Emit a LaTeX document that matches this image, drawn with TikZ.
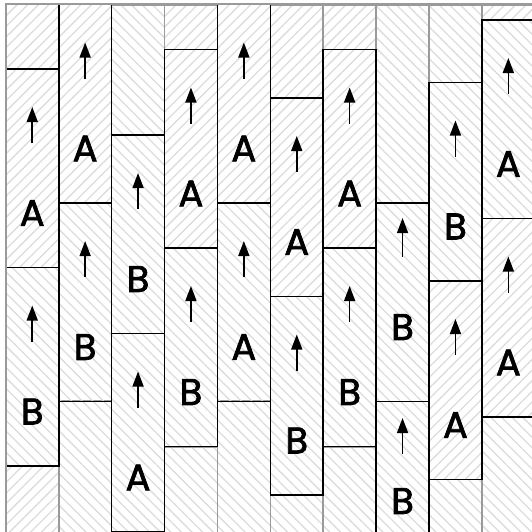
\documentclass[tikz,border=0pt]{standalone}
\usepackage{fontspec}
\newfontfamily\tagfont{Poppins}[FakeBold=2]
\usetikzlibrary{arrows.meta,patterns.meta}
\definecolor{hatch}{HTML}{DCDCDC}
\definecolor{edge}{HTML}{9A9A9A}

\begin{document}
\begin{tikzpicture}[
    x=1pt, y=-1pt,
    fwd/.style={pattern={Lines[angle=45,distance=7.5pt,line width=1.3pt]}, pattern color=hatch},
    bwd/.style={pattern={Lines[angle=-45,distance=7.5pt,line width=1.3pt]}, pattern color=hatch},
    gap/.style={
      draw=edge,
      line width=1.6pt,
      minimum width=52.9pt,
      inner sep=0pt,
      anchor=north
    },
    plank/.style={
      draw,
      line width=1.6pt,
      minimum width=52.9pt,
      minimum height=198.5pt,
      inner sep=0pt,
      anchor=north
    },
    tag/.style={font=\tagfont\fontsize{37}{37}\selectfont},
    up/.style={-{Triangle[width=11pt,length=15pt]}, line width=1.6pt}
  ]
    \useasboundingbox (0,0) rectangle (532,531);
    \clip (0,0) rectangle (532,531);

    \node[gap, fwd, minimum height=64pt] (g1a) at (32.25,4) {};
    \node[gap, fwd, minimum height=80pt] (g1b) at (32.25,465) {};
    \node[gap, bwd, minimum height=140pt] (g2b) at (85.15,400) {};
    \node[gap, bwd, minimum height=130pt] (g3a) at (138.05,4) {};
    \node[gap, fwd, minimum height=44.5pt] (g4a) at (190.95,4) {};
    \node[gap, bwd, minimum height=100pt] (g4b) at (190.95,446) {};
    \node[gap, bwd, minimum height=140pt] (g5b) at (243.85,400) {};
    \node[gap, fwd, minimum height=93pt] (g6a) at (296.75,4) {};
    \node[gap, bwd, minimum height=50pt] (g6b) at (296.75,494) {};
    \node[gap, fwd, minimum height=44.5pt] (g7a) at (349.65,4) {};
    \node[gap, bwd, minimum height=100pt] (g7b) at (349.65,446) {};
    \node[gap, bwd, minimum height=198pt] (g8a) at (402.55,4) {};
    \node[gap, bwd, minimum height=77.5pt] (g9a) at (455.45,4) {};
    \node[gap, bwd, minimum height=60pt] (g9b) at (455.45,478.5) {};
    \node[gap, fwd, minimum height=15pt] (g10a) at (508.35,4) {};
    \node[gap, bwd, minimum height=130pt] (g10b) at (508.35,415.5) {};

    \node[plank, fwd] (p1a) at (32.25,68) {};
    \node[plank, bwd] (p1b) at (32.25,266.5) {};
    \node[plank, fwd] (p2a) at (85.15,3.5) {};
    \node[plank, bwd] (p2b) at (85.15,202) {};
    \node[plank, bwd] (p3a) at (138.05,134) {};
    \node[plank, bwd] (p3b) at (138.05,332.5) {};
    \node[plank, fwd] (p4a) at (190.95,48.5) {};
    \node[plank, bwd] (p4b) at (190.95,247) {};
    \node[plank, fwd] (p5a) at (243.85,3.5) {};
    \node[plank, bwd] (p5b) at (243.85,202) {};
    \node[plank, fwd] (p6a) at (296.75,97) {};
    \node[plank, bwd] (p6b) at (296.75,295.5) {};
    \node[plank, fwd] (p7a) at (349.65,48.5) {};
    \node[plank, bwd] (p7b) at (349.65,247) {};
    \node[plank, bwd] (p8a) at (402.55,202) {};
    \node[plank, bwd] (p8b) at (402.55,400.5) {};
    \node[plank, bwd] (p9a) at (455.45,81.5) {};
    \node[plank, fwd] (p9b) at (455.45,280) {};
    \node[plank, bwd] (p10a) at (508.35,19) {};
    \node[plank, fwd] (p10b) at (508.35,217.5) {};

    \node[tag] (t1a) at (32.25,213) {A};
    \node[tag] (t1b) at (32.25,411.5) {B};
    \node[tag] (t2a) at (85.15,148.5) {A};
    \node[tag] (t2b) at (85.15,347) {B};
    \node[tag] (t3a) at (138.05,279) {B};
    \node[tag] (t3b) at (138.05,477.5) {A};
    \node[tag] (t4a) at (190.95,193.5) {A};
    \node[tag] (t4b) at (190.95,392) {B};
    \node[tag] (t5a) at (243.85,148.5) {A};
    \node[tag] (t5b) at (243.85,347) {A};
    \node[tag] (t6a) at (296.75,242) {A};
    \node[tag] (t6b) at (296.75,440.5) {B};
    \node[tag] (t7a) at (349.65,193.5) {A};
    \node[tag] (t7b) at (349.65,392) {B};
    \node[tag] (t8a) at (402.55,327) {B};
    \node[tag] (t8b) at (402.55,501) {B};
    \node[tag] (t9a) at (455.45,226.5) {B};
    \node[tag] (t9b) at (455.45,425) {A};
    \node[tag] (t10a) at (508.35,164) {A};
    \node[tag] (t10b) at (508.35,362.5) {A};

    \draw[up] (32.25,143) -- (32.25,107);
    \draw[up] (32.25,341.5) -- (32.25,305.5);
    \draw[up] (85.15,78.5) -- (85.15,42.5);
    \draw[up] (85.15,277) -- (85.15,241);
    \draw[up] (138.05,209) -- (138.05,173);
    \draw[up] (138.05,407.5) -- (138.05,371.5);
    \draw[up] (190.95,123.5) -- (190.95,87.5);
    \draw[up] (190.95,322) -- (190.95,286);
    \draw[up] (243.85,78.5) -- (243.85,42.5);
    \draw[up] (243.85,277) -- (243.85,241);
    \draw[up] (296.75,172) -- (296.75,136);
    \draw[up] (296.75,370.5) -- (296.75,334.5);
    \draw[up] (349.65,123.5) -- (349.65,87.5);
    \draw[up] (349.65,322) -- (349.65,286);
    \draw[up] (402.55,257) -- (402.55,218);
    \draw[up] (402.55,454) -- (402.55,418);
    \draw[up] (455.45,156.5) -- (455.45,120.5);
    \draw[up] (455.45,355) -- (455.45,319);
    \draw[up] (508.35,94) -- (508.35,58);
    \draw[up] (508.35,292.5) -- (508.35,256.5);

    \draw[edge, line width=1.6pt] (5.8,540) |- (540,4);
  \end{tikzpicture}
\end{document}
